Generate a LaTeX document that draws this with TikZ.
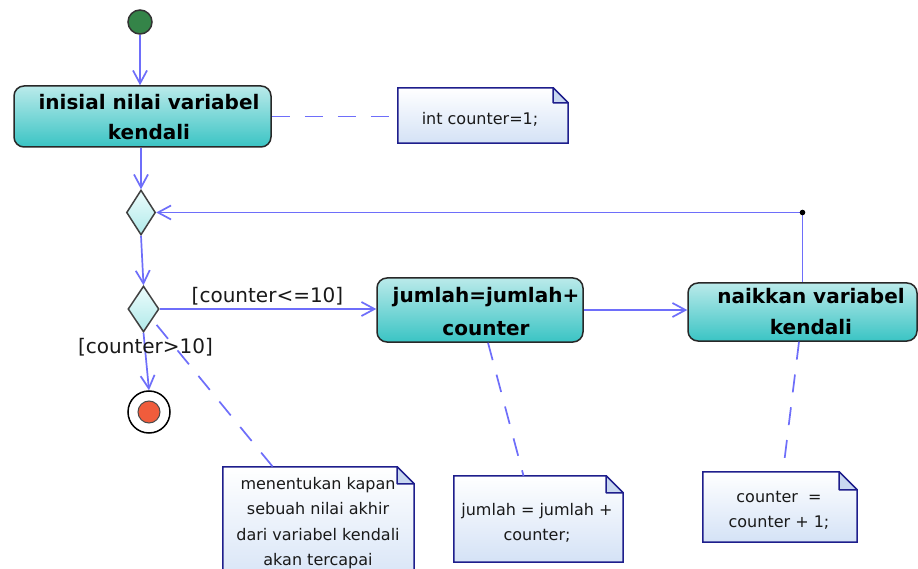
\documentclass[tikz,border=0pt]{standalone}
\usepackage{fontspec}
\setmainfont{DejaVu Sans}
\usetikzlibrary{arrows.meta,shapes.geometric,calc}
\definecolor{flowc}{RGB}{110,110,250}
\definecolor{notebd}{RGB}{30,30,140}
\definecolor{notebot}{RGB}{212,226,246}
\definecolor{notefold}{RGB}{200,215,240}
\definecolor{acttop}{RGB}{186,234,234}
\definecolor{actbot}{RGB}{58,196,196}
\definecolor{actbd}{RGB}{40,40,40}
\definecolor{diatop}{RGB}{236,252,252}
\definecolor{diabot}{RGB}{176,234,234}
\definecolor{startc}{RGB}{52,132,72}
\definecolor{endc}{RGB}{240,92,60}
\definecolor{txtc}{RGB}{25,25,25}
\newcommand\notepath[2]{%
  \draw[notebd, line width=1.5pt, top color=white, bottom color=notebot]
    (#1.north west) -- ($(#1.north east)+(-#2,0)$) -- ($(#1.north east)+(0,#2)$)
    -- (#1.south east) -- (#1.south west) -- cycle;
  \draw[notebd, line width=1.5pt, fill=notefold, line join=round]
    ($(#1.north east)+(-#2,0)$) -- ($(#1.north east)+(-#2,#2)$) -- ($(#1.north east)+(0,#2)$) -- cycle;}
\begin{document}
\begin{tikzpicture}[x=1pt,y=-1pt,
  flow/.style={draw=flowc, line width=1.7pt, -{Straight Barb[length=13pt,width=14pt]}},
  notelink/.style={draw=flowc, line width=1.7pt, dash pattern=on 18pt off 15pt},
  actbox/.style={draw=actbd, line width=1.5pt, rounded corners=10pt, top color=acttop, bottom color=actbot, inner sep=0pt},
  acttext/.style={anchor=base, inner sep=0pt, text=black},
  decision/.style={diamond, draw=black!75, line width=1.5pt, top color=diatop, bottom color=diabot, inner sep=0pt},
  notebox/.style={draw=none, inner sep=0pt},
  notetext/.style={anchor=base, inner sep=0pt, text=txtc, font=\fontsize{16}{25.5}\selectfont},
  guard/.style={anchor=base, inner sep=0pt, text=txtc, font=\fontsize{20}{24}\selectfont}]
\clip (0,0) rectangle (918,569);
\fill[white] (0,0) rectangle (918,569);

% start
\node[circle, draw=black!80, line width=1.5pt, fill=startc, minimum size=24pt, inner sep=0pt] (s) at (140,22) {};

% actions
\node[actbox, minimum width=257pt, minimum height=61pt] (a1) at (142.5,116.5) {};
\node[acttext] (a1t) at (149,110) {\fontsize{20}{30}\selectfont\bfseries\begin{tabular}[t]{@{}c@{}}inisial nilai variabel\\kendali\end{tabular}};
\node[actbox, minimum width=206pt, minimum height=64pt] (a2) at (480,310) {};
\node[acttext] (a2t) at (486,302) {\fontsize{20}{33}\selectfont\bfseries\begin{tabular}[t]{@{}c@{}}jumlah=jumlah+\\counter\end{tabular}};
\node[actbox, minimum width=229pt, minimum height=58pt] (a3) at (802.5,312) {};
\node[acttext] (a3t) at (811,304) {\fontsize{20}{31}\selectfont\bfseries\begin{tabular}[t]{@{}c@{}}naikkan variabel\\kendali\end{tabular}};

% decisions
\node[decision, minimum width=29pt, minimum height=45pt] (d1) at (141,212.5) {};
\node[decision, minimum width=31pt, minimum height=46pt] (d2) at (143.5,309) {};

% final
\node[circle, draw=black, line width=1.5pt, fill=white, minimum size=42pt, inner sep=0pt] (e) at (149,412) {};
\node[circle, draw=black!70, line width=1pt, fill=endc, minimum size=22pt, inner sep=0pt] (ei) at (149,412) {};

% junction
\coordinate (j) at (802.5,212.5);

% notes
\node[notebox, minimum width=170pt, minimum height=55pt] (n1) at (483,115.5) {};
\notepath{n1}{15}
\node[notetext] (n1t) at (480,125) {int counter=1;};

\node[notebox, minimum width=191pt, minimum height=123pt] (n4) at (318.5,528.5) {};
\notepath{n4}{17}
\node[notetext] (n4t) at (318,489) {\begin{tabular}[t]{@{}c@{}}menentukan kapan\\sebuah nilai akhir\\dari variabel kendali\\akan tercapai\end{tabular}};

\node[notebox, minimum width=169pt, minimum height=86pt] (n5) at (538.5,519) {};
\notepath{n5}{17}
\node[notetext] (n5t) at (537,515) {\begin{tabular}[t]{@{}c@{}}jumlah = jumlah +\\counter;\end{tabular}};

\node[notebox, minimum width=154pt, minimum height=70pt] (n6) at (780,507) {};
\notepath{n6}{18}
\node[notetext] (n6t) at (779,502) {\begin{tabular}[t]{@{}c@{}}counter\ \ =\\counter + 1;\end{tabular}};

% flows
\draw[flow] (s) -- (s |- a1.north);
\draw[flow] (a1.south -| d1.north) -- (d1.north);
\draw[flow] (d1.south) -- (d2.north);
\draw[flow] (d2.south) -- (e.north);
\draw[flow] (d2.east) -- (d2.east -| a2.west);
\draw[flow] (a2.east) -- (a2.east -| a3.west);
\draw[flow] (a3.north) -- (j) -- (d1.east);
\fill[black] (j) circle (2.8pt);

% guards
\node[guard] (g1) at (267.5,302) {[counter<=10]};
\node[guard] (g2) at (145.5,353) {[counter>10]};

% note links
\draw[notelink] (a1.east) -- (a1.east -| n1.west);
\draw[notelink] ($(d2.south east)+(5,4)$) -- ($(n4.north west)+(50,0)$);
\draw[notelink] ($(a2.south)+(8,0)$) -- ($(n5.north)+(-15,0)$);
\draw[notelink] ($(a3.south)+(-3.5,0)$) -- ($(n6.north)+(3,0)$);
\end{tikzpicture}
\end{document}
